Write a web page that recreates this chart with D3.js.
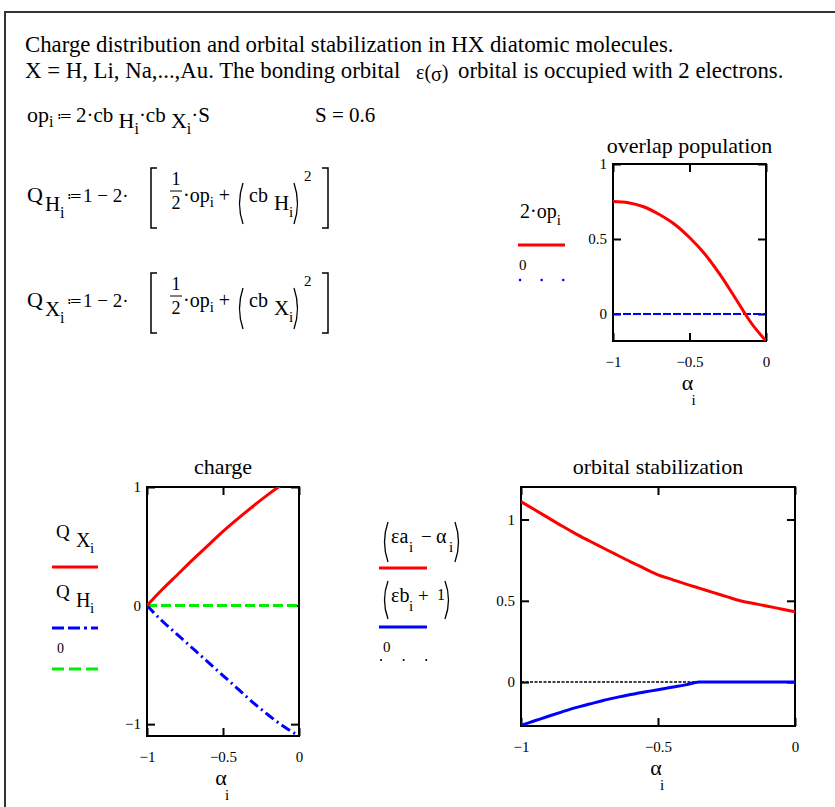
<!DOCTYPE html>
<html><head><meta charset="utf-8">
<script src="https://cdn.jsdelivr.net/npm/d3@7"></script>
<style>
body{margin:0;background:#fff;}
svg{display:block;}
svg text{font-family:"Liberation Serif","Times New Roman",Times,serif !important;fill:#000;}
</style></head><body>
<svg id="sheet" width="835" height="807"></svg>
<script>
// ---- data -------------------------------------------------------------
// α_i grid for the overlap and charge plots
const alpha = [-1,-0.9,-0.8,-0.7,-0.6,-0.5,-0.4,-0.3,-0.2,-0.1,0];
// 2·op_i  (overlap population)
const overlap2op = [0.75,0.742,0.715,0.665,0.6,0.51,0.4,0.262,0.105,-0.055,-0.18];
// Q X_i and Q H_i (charges)
const chargeX = [0,0.135,0.26,0.385,0.505,0.625,0.735,0.84,0.94,1.03,1.10];
const chargeH = [0,-0.13,-0.245,-0.36,-0.475,-0.59,-0.705,-0.82,-0.925,-1.02,-1.10];
// finer α grid for the orbital stabilization plot
const alphaFine = [-1,-0.95,-0.9,-0.85,-0.8,-0.75,-0.7,-0.65,-0.6,-0.55,-0.5,-0.45,-0.4,-0.35,-0.3,-0.25,-0.2,-0.15,-0.1,-0.05,0];
// (εa_i − α_i)
const stabA = [1.11,1.06,1.01,0.96,0.912,0.868,0.825,0.782,0.74,0.70,0.66,0.632,0.604,0.578,0.552,0.526,0.50,0.483,0.467,0.45,0.433];
// (εb_i + 1)
const stabB = [-0.266,-0.238,-0.21,-0.183,-0.157,-0.135,-0.113,-0.094,-0.076,-0.061,-0.047,-0.032,-0.017,0,0,0,0,0,0,0,0];
// axis ticks
const xTicks = [-1,-0.5,0];
const yTicksOverlap = [0,0.5,1];
const yTicksCharge = [-1,0,1];
const yTicksStab = [0,0.5,1];

const RED="#ff0000", BLUE="#0000ff", GREEN="#00ee00";
const svg = d3.select("#sheet");

// worksheet region border
svg.append("path").attr("d","M5,807V12H835").attr("fill","none")
   .attr("stroke","#333").attr("stroke-width",2);

// ---- text helpers -------------------------------------------------------
function txt(x,y,s,size,anchor){
  return svg.append("text").attr("x",x).attr("y",y).attr("font-size",size)
     .attr("text-anchor",anchor||"start").text(s);
}
// a run of pieces: [text, size, baseline offset, optional absolute x]
function runs(x,y,list){
  const t = svg.append("text").attr("x",x).attr("y",y);
  list.forEach(([s,size,off,ax])=>{
    const sp = t.append("tspan").attr("y",y+off).attr("font-size",size).text(s);
    if(ax!==undefined) sp.attr("x",ax);
  });
  return t;
}
function bracket(x,top,bot,dir){
  svg.append("path").attr("fill","none").attr("stroke","#000").attr("stroke-width",1.5)
    .attr("d",`M${x+dir*6},${top}H${x}V${bot}H${x+dir*6}`);
}
function paren(x,top,bot,dir){
  const m=(top+bot)/2;
  svg.append("path").attr("fill","none").attr("stroke","#000").attr("stroke-width",1.3)
    .attr("d",`M${x+dir*5},${top}Q${x-dir*2},${m} ${x+dir*5},${bot}`);
}

// ---- heading text -------------------------------------------------------
txt(25,52,"Charge distribution and orbital stabilization in HX diatomic molecules.",22.8);
txt(25,78,"X = H, Li, Na,...,Au. The bonding orbital",22.8);
runs(416,79,[["ε(",20,0],["σ",20,2],[")",20,0]]);
txt(458,78,"orbital is occupied with 2 electrons.",22.8);

// op_i := 2·cb H_i·cb X_i·S
runs(27,122,[["op",22,0],["i",16,5],[" ≔ ",15,-1],["2·cb ",21,0],["H",22,6],["i",16,12],
             ["·cb ",21,0],["X",22,6],["i",16,12],["·S",21,0]]);
txt(315,122,"S = 0.6",21);

// Q_H and Q_X definitions
function chargeFormula(B,atom){
  txt(27,B-4,"Q",22);
  txt(45,B+5,atom,21);
  txt(60,B+12,"i",16);
  txt(67,B-5,"≔",15);
  txt(83,B-4,"1 −  2·",19);
  bracket(151,B-38,B+22,1);
  txt(176,B-21,"1",18,"middle");
  svg.append("line").attr("x1",170).attr("x2",182).attr("y1",B-15).attr("y2",B-15)
     .attr("stroke","#000").attr("stroke-width",1);
  txt(176,B+3,"2",18,"middle");
  runs(183,B-4,[["·op",20,0],["i",15,5],[" +",20,0]]);
  paren(238,B-23,B+18,1);
  txt(249,B-4,"cb",20);
  txt(274,B+4,atom,21);
  txt(289,B+11,"i",15);
  paren(299,B-23,B+18,-1);
  txt(304,B-25,"2",15);
  bracket(328,B-38,B+22,-1);
}
chargeFormula(206,"H");
chargeFormula(311,"X");

// ---- plot helper --------------------------------------------------------
function plot(o){
  const x = d3.scaleLinear().domain([-1,0]).range([o.x0,o.x1]);
  const y = d3.scaleLinear().domain(o.yDomain).range([o.y1,o.y0]);
  const g = svg.append("g");
  const id = "clip"+o.name;
  svg.append("clipPath").attr("id",id).append("rect")
     .attr("x",o.x0).attr("y",o.y0).attr("width",o.x1-o.x0).attr("height",o.y1-o.y0);
  const fmt = d3.format("~g");
  const ax = (a,pos,labels,ticks)=>{
    const axis = a.tickValues(ticks).tickSizeInner(-8).tickSizeOuter(0)
      .tickPadding(labels?6:0).tickFormat(labels?fmt:"");
    const gg = g.append("g").attr("transform",pos).call(axis);
    gg.attr("font-family",null).attr("font-size",15);
    gg.select(".domain").remove();
    gg.selectAll("line").attr("stroke","#000").attr("stroke-width",2);
    gg.selectAll("text").attr("font-size",15).attr("fill","#000");
    return gg;
  };
  const bx = ax(d3.axisBottom(x),`translate(0,${o.y1})`,true,xTicks);
  bx.selectAll("text").attr("dy","1.3em");
  ax(d3.axisTop(x),`translate(0,${o.y0})`,false,xTicks);
  ax(d3.axisLeft(y),`translate(${o.x0},0)`,true,o.yTicks);
  ax(d3.axisRight(y),`translate(${o.x1},0)`,false,o.yTicks);
  g.append("rect").attr("x",o.x0).attr("y",o.y0).attr("width",o.x1-o.x0)
   .attr("height",o.y1-o.y0).attr("fill","none").attr("stroke","#000").attr("stroke-width",2);
  const plotArea = g.append("g").attr("clip-path",`url(#${id})`);
  o.series.forEach(s=>{
    const line = d3.line().x((d,i)=>x(s.xs[i])).y(d=>y(d)).curve(d3.curveMonotoneX);
    plotArea.append("path").datum(s.ys).attr("d",line).attr("fill","none")
      .attr("stroke",s.color).attr("stroke-width",s.width)
      .attr("stroke-dasharray",s.dash||null);
  });
  // title and axis label α_i
  const cx=(o.x0+o.x1)/2;
  txt(cx,o.y0-o.titleGap,o.title,22,"middle");
  txt(cx-2,o.y1+49,"α",22,"middle");
  txt(cx+4,o.y1+64,"i",15,"middle");
  return {x,y};
}

const zero = v => v.map(()=>0);

plot({name:"ov",x0:613,x1:766,y0:164,y1:341,yDomain:[-0.18,1],yTicks:yTicksOverlap,
  title:"overlap population",titleGap:11,
  series:[
    {xs:alpha,ys:zero(alpha),color:BLUE,width:2,dash:"8,2"},
    {xs:alpha,ys:overlap2op,color:RED,width:3}
  ]});

plot({name:"ch",x0:147,x1:299,y0:487,y1:736,yDomain:[-1.1,1.0],yTicks:yTicksCharge,
  title:"charge",titleGap:13,
  series:[
    {xs:alpha,ys:zero(alpha),color:GREEN,width:3,dash:"10,4"},
    {xs:alpha,ys:chargeH,color:BLUE,width:3,dash:"10,4,2,4"},
    {xs:alpha,ys:chargeX,color:RED,width:3}
  ]});

plot({name:"st",x0:521,x1:795,y0:487,y1:726,yDomain:[-0.27,1.2],yTicks:yTicksStab,
  title:"orbital stabilization",titleGap:13,
  series:[
    {xs:alphaFine,ys:zero(alphaFine),color:"#000",width:1.5,dash:"3,1.5"},
    {xs:alphaFine,ys:stabB,color:BLUE,width:3},
    {xs:alphaFine,ys:stabA,color:RED,width:3}
  ]});

// ---- legends ------------------------------------------------------------
function legendLine(x1,x2,yy,color,width,dash,cap){
  svg.append("line").attr("x1",x1).attr("x2",x2).attr("y1",yy).attr("y2",yy)
    .attr("stroke",color).attr("stroke-width",width).attr("stroke-dasharray",dash||null)
    .attr("stroke-linecap",cap||"butt");
}
// overlap population legend
runs(520,218,[["2·op",20,0],["i",15,7]]);
legendLine(518,565,245,RED,3);
txt(519,270,"0",15);
legendLine(520,566,280,BLUE,2.5,"0.1,21.5","round");

// charge legend
runs(56,538,[["Q",19,0],["X",20,9,76],["i",15,15,90]]);
legendLine(52,98,567,RED,3);
runs(56,598,[["Q",19,0],["H",20,9,76],["i",15,15,90]]);
legendLine(52,98,628,BLUE,3,"12,4,12,4,3,4");
txt(57,653,"0",14);
legendLine(52,98,669,GREEN,3,"12,5");

// orbital stabilization legend
paren(383,522,562,1);
runs(391,543,[["εa",20,0],["i",15,9,409],["−",19,0,421],["α",20,0,436],["i",15,9,449]]);
paren(460,522,562,-1);
legendLine(379,427,568,RED,3);
paren(383,581,619,1);
runs(391,602,[["εb",20,0],["i",15,9,409],["+",19,0,418],["1",16,-2,437]]);
paren(450,581,619,-1);
legendLine(379,427,627,BLUE,3);
txt(383,652,"0",15);
legendLine(381,427,660,"#000",2,"0.1,22.5","round");
</script>
</body></html>
